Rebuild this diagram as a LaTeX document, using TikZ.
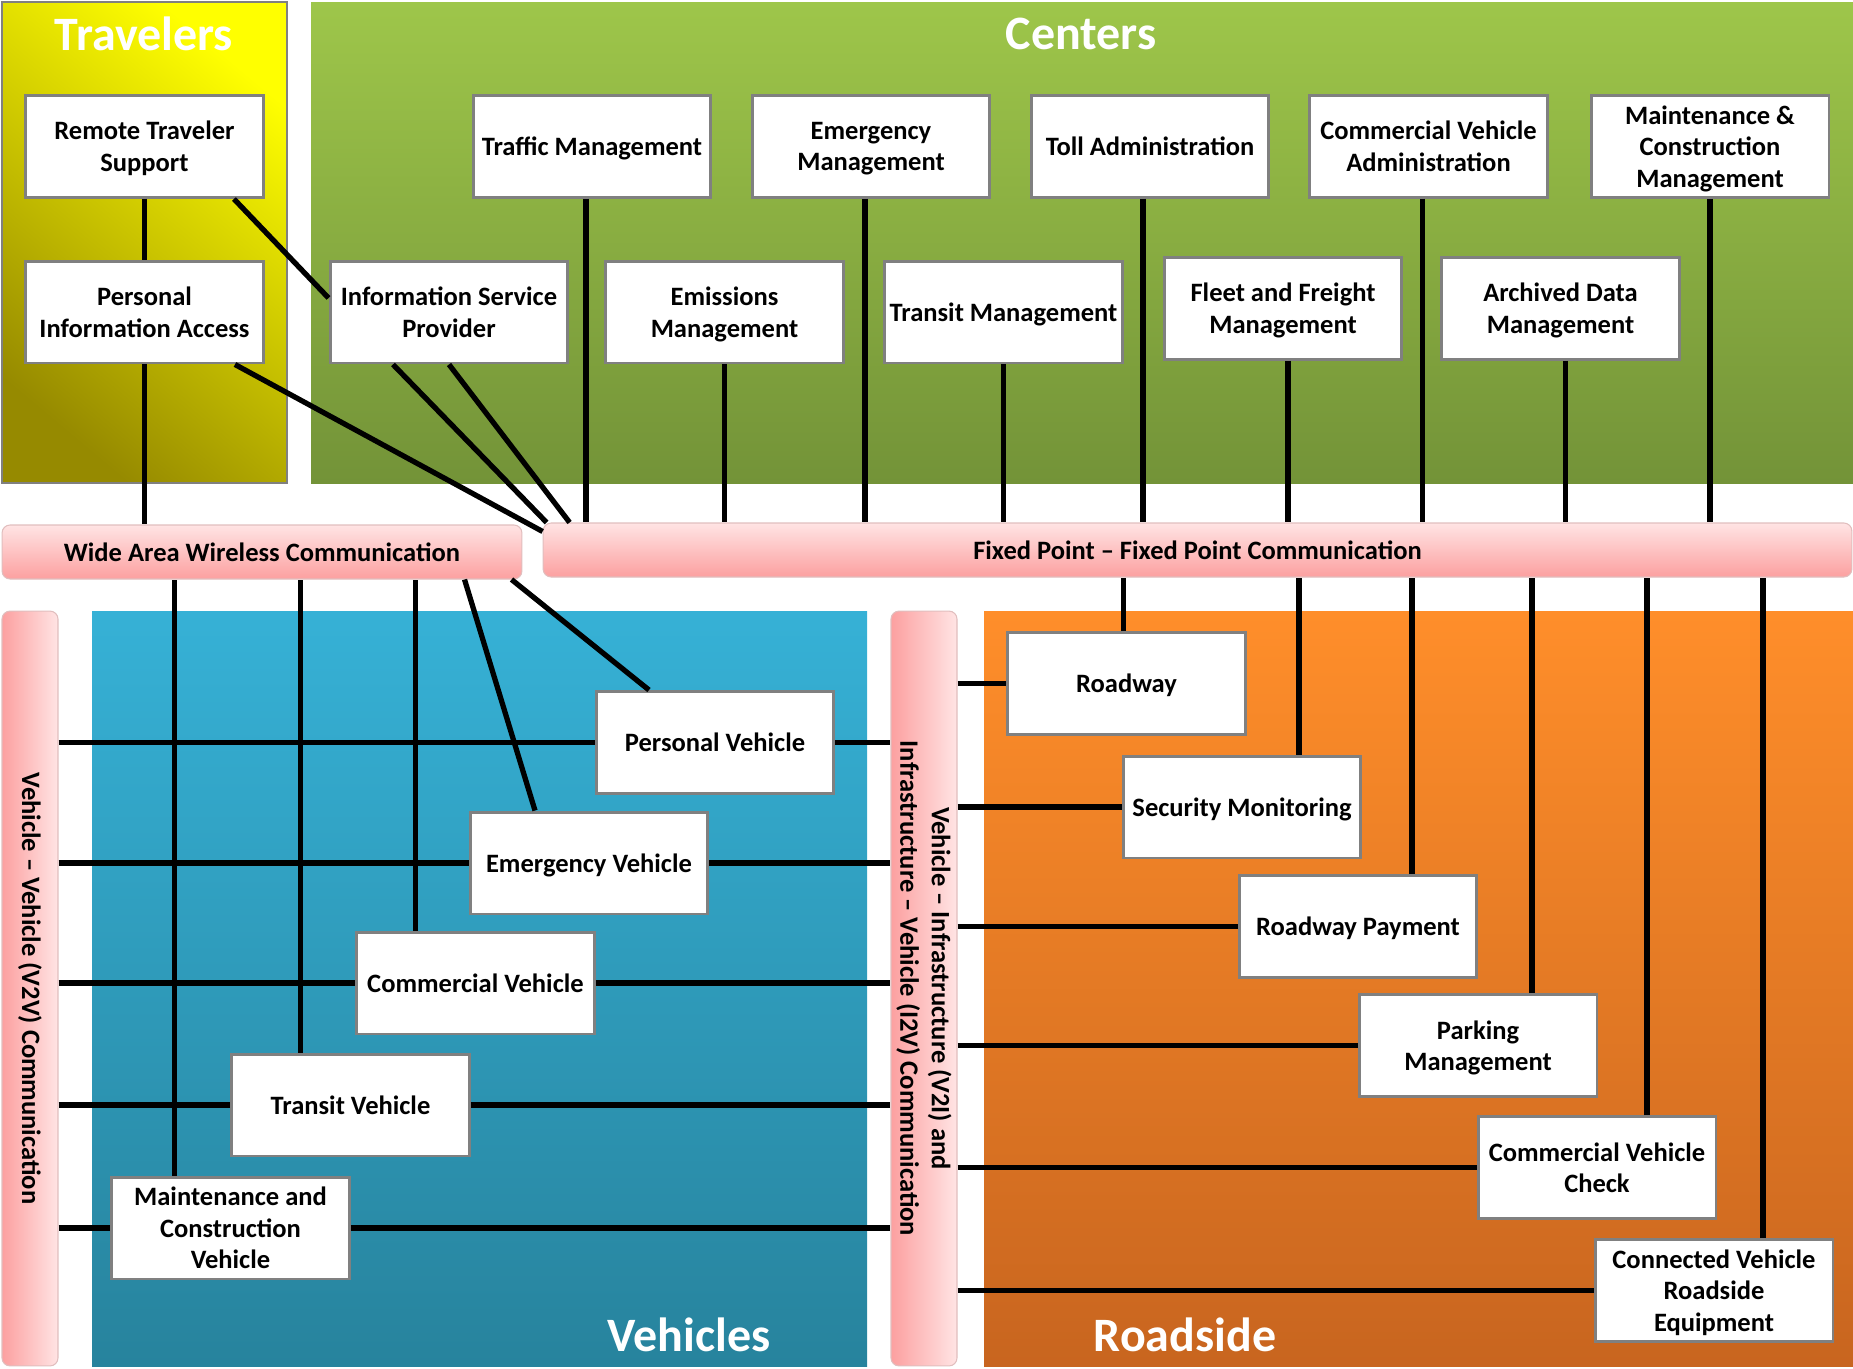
\documentclass[tikz,border=0pt]{standalone}
\usepackage{fontspec}
\setmainfont{Carlito}
\usetikzlibrary{positioning,calc}
\definecolor{EdgeGray}{RGB}{128,128,128}
\definecolor{TravTop}{RGB}{255,255,0}
\definecolor{TravBot}{RGB}{150,138,0}
\definecolor{CentTop}{RGB}{158,198,74}
\definecolor{CentBot}{RGB}{115,147,56}
\definecolor{VehTop}{RGB}{54,177,214}
\definecolor{VehBot}{RGB}{39,131,157}
\definecolor{RoadTop}{RGB}{255,142,42}
\definecolor{RoadBot}{RGB}{200,101,31}
\definecolor{CommLight}{RGB}{255,228,228}
\definecolor{CommDark}{RGB}{252,160,160}
\definecolor{CommEdge}{RGB}{225,190,190}
\tikzset{
  archbox/.style={draw=EdgeGray, line width=1.7pt, fill=white, minimum width=4.76cm, minimum height=2.04cm,
    inner sep=2pt, align=center, text depth=0pt, font=\fontsize{15.1}{18}\selectfont\bfseries},
  bartext/.style={align=center, inner sep=0pt, font=\fontsize{15.1}{18}\selectfont\bfseries},
  commbar/.style={bartext, draw=CommEdge, line width=0.6pt, rounded corners=0.16cm},
  hbar/.style={commbar, top color=CommLight, bottom color=CommDark, minimum height=1.08cm},
  vbar/.style={commbar, left color=CommDark, right color=CommLight, minimum height=15.1cm},
  link/.style={line width=3pt},
  paneltitle/.style={text=white, inner sep=0pt, font=\fontsize{27.3}{31}\selectfont\bfseries},
}
\begin{document}
\begin{tikzpicture}[x=0.02cm, y=-0.02cm]
  \useasboundingbox (0,0) rectangle (1853,1369);
  % panels
  \shade[top color=TravTop, bottom color=TravBot, shading angle=-40, draw=EdgeGray, line width=1.7pt] (2,2) rectangle (287,483);
  \shade[top color=CentTop, bottom color=CentBot] (311,2) rectangle (1853,483);
  \shade[top color=VehTop, bottom color=VehBot] (92,611) rectangle (867,1366);
  \shade[top color=RoadTop, bottom color=RoadBot] (984,611) rectangle (1853,1366);
  \node[paneltitle] (travtitle) at (144,34) {Travelers};
  \node[paneltitle] (centtitle) at (1081,34) {Centers};
  \node[paneltitle] (vehtitle) at (689,1335) {Vehicles};
  \node[paneltitle] (roadtitle) at (1185,1335) {Roadside};

  % communication bars
  \node[hbar, minimum width=10.4cm] (waw) at (262,552) {Wide Area Wireless Communication};
  \node[hbar, minimum width=26.18cm] (fp) at (1197.5,550) {Fixed Point -- Fixed Point Communication};
  \node[vbar, minimum width=1.12cm] (v2v) at (30,988.5) {};
  \node[bartext, rotate=-90] (v2vtext) at (v2v) {Vehicle -- Vehicle (V2V) Communication};
  \node[vbar, minimum width=1.32cm] (v2i) at (924,988.5) {};
  \node[bartext, rotate=-90] (v2itext) at (v2i) {Vehicle -- Infrastructure (V2I) and\\Infrastructure -- Vehicle (I2V) Communication};

  % travelers
  \node[archbox] (rts) at (144.5,146.5) {Remote Traveler\\Support};
  \node[archbox] (pia) at (144.5,312) {Personal\\Information Access};
  % centers
  \node[archbox] (tm) at (592,146.5) {Traffic Management};
  \node[archbox] (em) at (871,146.5) {Emergency\\Management};
  \node[archbox] (toll) at (1150,146.5) {Toll Administration};
  \node[archbox] (cva) at (1428.5,146.5) {Commercial Vehicle\\Administration};
  \node[archbox] (mcm) at (1710,146.5) {Maintenance \&\\Construction\\Management};
  \node[archbox] (isp) at (449,312) {Information Service\\Provider};
  \node[archbox] (emis) at (724.5,312) {Emissions\\Management};
  \node[archbox] (transm) at (1003.5,312) {Transit Management};
  \node[archbox] (ffm) at (1283,308.5) {Fleet and Freight\\Management};
  \node[archbox] (adm) at (1560.5,308.5) {Archived Data\\Management};
  % vehicles
  \node[archbox] (pv) at (715,742.5) {Personal Vehicle};
  \node[archbox] (ev) at (589,863) {Emergency Vehicle};
  \node[archbox] (cv) at (475.5,983) {Commercial Vehicle};
  \node[archbox] (tv) at (350.5,1105) {Transit Vehicle};
  \node[archbox] (mcv) at (230.5,1228) {Maintenance and\\Construction\\Vehicle};
  % roadside
  \node[archbox] (road) at (1126.5,683.5) {Roadway};
  \node[archbox] (sm) at (1242,807) {Security Monitoring};
  \node[archbox] (rp) at (1358,926.5) {Roadway Payment};
  \node[archbox] (pm) at (1478,1045.5) {Parking\\Management};
  \node[archbox] (cvc) at (1597,1167.5) {Commercial Vehicle\\Check};
  \node[archbox] (cvre) at (1714,1290.5) {Connected Vehicle\\Roadside\\Equipment};

  % travelers and centers links
  \draw[link] (rts) -- (pia);
  \draw[link] (pia.south) -- (pia.south |- waw.north);
  \draw[link] ($(rts.south east)+(-31,0)$) -- ($(isp.west)+(0,-14)$);
  \draw[link] ($(pia.south east)+(-30,0)$) -- ($(fp.north west)+(0,9)$);
  \draw[link] ($(isp.south)+(-56,0)$) -- ($(fp.north west)+(4,0)$);
  \draw[link] (isp.south) -- ($(fp.north west)+(27,0)$);
  \foreach \b/\dx in {tm/-6,em/-6,toll/-7,cva/-6,mcm/0,emis/0,transm/0,ffm/5,adm/5}
    \draw[link] ($(\b.south)+(\dx,0)$) -- ($(\b.south |- fp.north)+(\dx,0)$);

  % vehicles links
  \foreach \b/\dx in {mcv/-56,tv/-50,cv/-60}
    \draw[link] ($(\b.north)+(\dx,0)$) -- ($(\b.north |- waw.south)+(\dx,0)$);
  \draw[link] ($(waw.south west)+(463,0)$) -- ($(ev.north)+(-54,0)$);
  \draw[link] ($(waw.south west)+(510,0)$) -- ($(pv.north)+(-66,0)$);
  \foreach \b in {pv,ev,cv,tv,mcv}{
    \draw[link] (\b.west -| v2v.east) -- (\b.west);
    \draw[link] (\b.east) -- (\b.east -| v2i.west);
  }

  % roadside links
  \foreach \b/\dx in {road/-3,sm/57,rp/54,pm/54,cvc/50,cvre/49}{
    \draw[link] (\b.west -| v2i.east) -- (\b.west);
    \draw[link] ($(\b.north)+(\dx,0)$) -- ($(\b.north |- fp.south)+(\dx,0)$);
  }
\end{tikzpicture}
\end{document}
